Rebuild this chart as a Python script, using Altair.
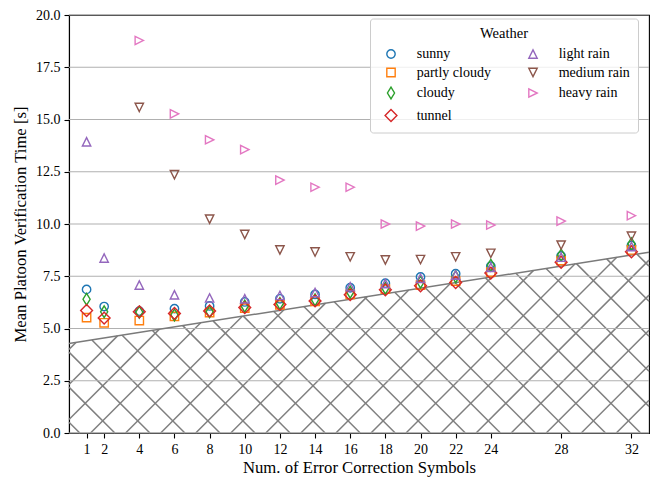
import altair as alt
import pandas as pd
import numpy as np

# ---------------- data ----------------
x_vals = [1, 2, 4, 6, 8, 10, 12, 14, 16, 18, 20, 22, 24, 28, 32]
x_rain = [4, 6, 8, 10, 12, 14, 16, 18, 20, 22, 24, 28, 32]

sunny = [6.87, 6.05, 5.83, 5.95, 6.08, 6.27, 6.42, 6.63, 6.95, 7.17, 7.47, 7.62, 7.98, 8.47, 8.97]
partly_cloudy = [5.52, 5.27, 5.38, 5.58, 5.76, 5.97, 6.13, 6.30, 6.63, 6.88, 7.08, 7.27, 7.70, 8.25, 8.76]
cloudy = [6.40, 5.80, 5.78, 5.65, 5.80, 6.07, 6.20, 6.37, 6.74, 6.93, 7.22, 7.48, 8.03, 8.52, 9.05]
tunnel = [5.86, 5.50, 5.80, 5.72, 5.84, 6.00, 6.15, 6.32, 6.62, 6.85, 7.04, 7.20, 7.65, 8.17, 8.67]
light_rain = [13.93, 8.37, 7.08, 6.61, 6.46, 6.42, 6.58, 6.72, 7.00, 7.15, 7.40, 7.56, 7.93, 8.41, 8.92]
medium_rain = [15.58, 12.36, 10.23, 9.50, 8.76, 8.66, 8.43, 8.28, 8.30, 8.43, 8.60, 8.99, 9.42]
heavy_rain = [18.78, 15.27, 14.03, 13.56, 12.10, 11.76, 11.76, 10.00, 9.90, 10.00, 9.95, 10.14, 10.40]

series_names = ["sunny", "partly cloudy", "cloudy", "tunnel", "light rain", "medium rain", "heavy rain"]
series_x = [x_vals, x_vals, x_vals, x_vals, x_vals, x_rain, x_rain]
series_y = [sunny, partly_cloudy, cloudy, tunnel, light_rain, medium_rain, heavy_rain]

# lower bound region (hatched)
bound_x = [0, 33]
bound_y = [4.28, 8.65]

y_ticks = [0.0, 2.5, 5.0, 7.5, 10.0, 12.5, 15.0, 17.5, 20.0]

colors = ["#1f77b4", "#ff7f0e", "#2ca02c", "#d62728", "#9467bd", "#8c564b", "#e377c2"]
shapes = [
    "circle",
    "square",
    "M0,-1.414L0.849,0L0,1.414L-0.849,0Z",
    "M0,-1.414L1.414,0L0,1.414L-1.414,0Z",
    "M0,-1L1,1L-1,1Z",
    "M0,1L1,-1L-1,-1Z",
    "M1,0L-1,1L-1,-1Z",
]

# ---------------- layout ----------------
W, H = 580, 418
XMAX, YMAX = 33, 20
FONT = "Liberation Serif"
S = 70  # marker area

rows = []
for name, xs, ys in zip(series_names, series_x, series_y):
    for xv, yv in zip(xs, ys):
        rows.append({"n": xv, "t": yv, "weather": name})
df = pd.DataFrame(rows)

# hatch pattern segments (decoration), clipped to region under boundary
HATCH = 35.05
sx, sy = W / XMAX, H / YMAX
b0 = bound_y[0] * sy
b1 = (bound_y[1] - bound_y[0]) * sy / ((bound_x[1] - bound_x[0]) * sx)
segs = []
for s, phase in [(1, 13.5), (-1, 10.8)]:
    for k in range(-40, 40):
        c = phase + k * HATCH
        lo, hi = 0.0, float(W)
        if s > 0:
            lo = max(lo, -c)
        else:
            hi = min(hi, c)
        a = s - b1
        if a > 0:
            hi = min(hi, (b0 - c) / a)
        else:
            lo = max(lo, (b0 - c) / a)
        if hi - lo > 0.3:
            segs.append({"x": lo / sx, "y": (s * lo + c) / sy,
                         "x2": hi / sx, "y2": (s * hi + c) / sy})
hatch_df = pd.DataFrame(segs)

xscale = alt.Scale(domain=[0, XMAX], nice=False, zero=False)
yscale = alt.Scale(domain=[0, YMAX], nice=False, zero=False)

xaxis = alt.Axis(values=x_vals, format="d", grid=False, tickSize=5, labelPadding=4,
                 title="Num. of Error Correction Symbols", titleY=34, titleBaseline="middle")
yaxis = alt.Axis(values=y_ticks, format=".1f", grid=False, tickSize=5, labelPadding=4,
                 title="Mean Platoon Verification Time [s]", titleX=-48.5, titleY=H / 2,
                 titleBaseline="middle")

hatch = alt.Chart(hatch_df).mark_rule(color="#7f7f7f", strokeWidth=1.5).encode(
    x=alt.X("x:Q", scale=xscale, axis=xaxis),
    y=alt.Y("y:Q", scale=yscale, axis=yaxis),
    x2="x2:Q", y2="y2:Q",
)

grid = alt.Chart(pd.DataFrame({"g": y_ticks})).mark_rule(color="#b0b0b0", strokeWidth=1.1).encode(
    y=alt.Y("g:Q", scale=yscale)
)

bound = alt.Chart(pd.DataFrame({"bx": bound_x, "by": bound_y})).mark_line(
    color="#7a7a7a", strokeWidth=1.5).encode(
    x=alt.X("bx:Q", scale=xscale), y=alt.Y("by:Q", scale=yscale)
)

points = alt.Chart(df).mark_point(filled=False, strokeWidth=1.4, size=S, opacity=1).encode(
    x=alt.X("n:Q", scale=xscale),
    y=alt.Y("t:Q", scale=yscale),
    color=alt.Color("weather:N", scale=alt.Scale(domain=series_names, range=colors),
                    legend=alt.Legend(title="Weather", orient="none", legendX=301, legendY=3.5,
                                      columns=2)),
    shape=alt.Shape("weather:N", scale=alt.Scale(domain=series_names, range=shapes)),
)

chart = alt.layer(hatch, grid, bound, points).properties(
    width=W, height=H,
    autosize="none",
    padding={"left": 69, "top": 15, "right": 5, "bottom": 44},
).configure_view(stroke="black", strokeWidth=1.1).configure_axis(
    labelFont=FONT, titleFont=FONT, labelFontSize=14, titleFontSize=16.7,
    labelColor="black", titleColor="black", tickColor="black", domainColor="black",
    titleFontWeight="normal", domainWidth=1.1, tickWidth=1.1,
).configure_legend(
    labelFont=FONT, titleFont=FONT, labelFontSize=14, titleFontSize=14.5,
    titleFontWeight="normal", labelColor="black", titleColor="black",
    padding=8, symbolOffset=6, labelOffset=18.7, columnPadding=29, rowPadding=4.5,
    titlePadding=6, titleAnchor="middle", strokeColor="#cccccc",
    fillColor="rgba(255,255,255,0.8)", cornerRadius=3, symbolSize=S,
    symbolStrokeWidth=1.4,
)

chart.save("out.html", embed_options={"renderer": "svg", "actions": False})
